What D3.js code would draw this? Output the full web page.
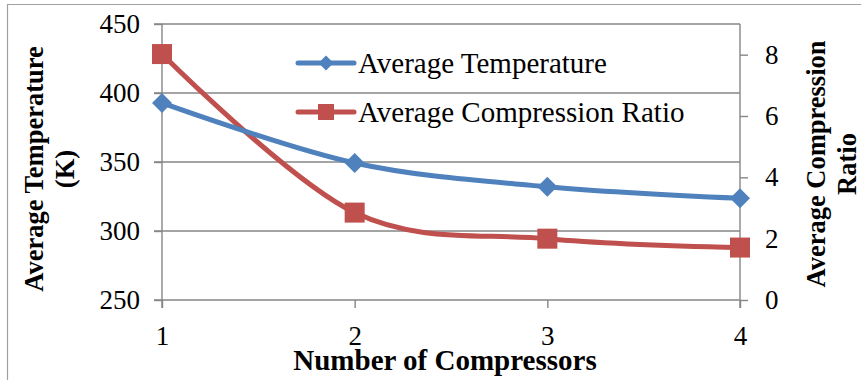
<!DOCTYPE html>
<html><head><meta charset="utf-8">
<script src="https://cdn.jsdelivr.net/npm/d3@7"></script>
<style>
html,body{margin:0;padding:0;background:#fff;}
</style></head>
<body><svg id="c" width="861" height="380"></svg>
<script>
const categories = [1, 2, 3, 4];
const avgTemperature = [392.8, 349.3, 332.1, 323.7];
const avgCompressionRatio = [8.02, 2.85, 2.0, 1.71];
const leftTicks = [250, 300, 350, 400, 450];
const rightTicks = [0, 2, 4, 6, 8];
const seriesNames = ["Average Temperature", "Average Compression Ratio"];

const svg = d3.select("#c");
const L = 162, R = 740, T = 24, B = 300;
const x = d3.scalePoint().domain(categories).range([L, R]);
const yL = d3.scaleLinear().domain([250, 450]).range([B, T]);
const yR = d3.scaleLinear().domain([0, 9]).range([B, T]);
const axisColor = "#868686";
const FONT = "Liberation Serif";

// outer frame (top and left visible)
svg.append("path").attr("d", "M7.5,380 L7.5,4.5 L861,4.5").attr("fill", "none").attr("stroke", "#a0a0a0").attr("stroke-width", 1.2);

// gridlines
svg.append("g").selectAll("line").data(leftTicks).join("line")
  .attr("x1", L - 8).attr("x2", R).attr("y1", d => yL(d)).attr("y2", d => yL(d))
  .attr("stroke", axisColor).attr("stroke-width", 1.4);

// left axis
const gl = svg.append("g").attr("transform", `translate(${L},0)`)
  .call(d3.axisLeft(yL).tickValues(leftTicks).tickSize(8).tickPadding(14));
// right axis
const gr = svg.append("g").attr("transform", `translate(${R},0)`)
  .call(d3.axisRight(yR).tickValues(rightTicks).tickSize(8).tickPadding(17));
// bottom axis
const gb = svg.append("g").attr("transform", `translate(0,${B})`)
  .call(d3.axisBottom(x).tickSize(8).tickPadding(18));
[gl, gr, gb].forEach(g => {
  g.attr("font-family", FONT).attr("font-size", 27);
  g.select(".domain").remove();
  g.selectAll("line").attr("stroke", axisColor).attr("stroke-width", 1.4);
  g.selectAll("text").attr("fill", "#000");
});
// axis vertical lines
svg.append("line").attr("x1", L).attr("x2", L).attr("y1", T).attr("y2", B + 8).attr("stroke", axisColor).attr("stroke-width", 1.4);
svg.append("line").attr("x1", R).attr("x2", R).attr("y1", T).attr("y2", B + 8).attr("stroke", axisColor).attr("stroke-width", 1.4);

const curve = d3.curveCardinal.tension(0);
const blue = "#4F81BD", red = "#C0504D";
const tData = categories.map((c, i) => [x(c), yL(avgTemperature[i])]);
const rData = categories.map((c, i) => [x(c), yR(avgCompressionRatio[i])]);

svg.append("path").attr("d", d3.line().curve(curve)(rData)).attr("fill", "none").attr("stroke", red).attr("stroke-width", 5);
svg.append("path").attr("d", d3.line().curve(curve)(tData)).attr("fill", "none").attr("stroke", blue).attr("stroke-width", 5);

const diamond = s => `M0,${-s}L${s},0L0,${s}L${-s},0Z`;
svg.append("g").selectAll("rect").data(rData).join("rect")
  .attr("x", d => d[0] - 10).attr("y", d => d[1] - 10).attr("width", 20).attr("height", 20).attr("fill", red);
svg.append("g").selectAll("path").data(tData).join("path")
  .attr("transform", d => `translate(${d[0]},${d[1]})`).attr("d", diamond(10)).attr("fill", blue);

// legend
const leg = [{name: seriesNames[0], color: blue, y: 63, m: "d"}, {name: seriesNames[1], color: red, y: 112, m: "s"}];
leg.forEach(l => {
  svg.append("line").attr("x1", 298).attr("x2", 354).attr("y1", l.y).attr("y2", l.y).attr("stroke", l.color).attr("stroke-width", 5).attr("stroke-linecap", "round");
  if (l.m === "d") svg.append("path").attr("transform", `translate(326,${l.y})`).attr("d", diamond(7.5)).attr("fill", l.color);
  else svg.append("rect").attr("x", 318).attr("y", l.y - 8).attr("width", 16).attr("height", 16).attr("fill", l.color);
  svg.append("text").attr("x", 358).attr("y", l.y + 10).attr("font-family", FONT).attr("font-size", 29).attr("fill", "#000").text(l.name);
});

// axis titles
svg.append("text").attr("x", 445).attr("y", 370).attr("text-anchor", "middle").attr("font-family", FONT).attr("font-weight", "bold").attr("font-size", 29).text("Number of Compressors");
const lt = svg.append("text").attr("transform", "translate(43,169) rotate(-90)").attr("text-anchor", "middle").attr("font-family", FONT).attr("font-weight", "bold").attr("font-size", 26.5);
lt.append("tspan").attr("x", 0).attr("y", 0).text("Average Temperature");
lt.append("tspan").attr("x", 0).attr("y", 31).text("(K)");
const rt = svg.append("text").attr("transform", "translate(825,164) rotate(-90)").attr("text-anchor", "middle").attr("font-family", FONT).attr("font-weight", "bold").attr("font-size", 26.5);
rt.append("tspan").attr("x", 0).attr("y", 0).text("Average Compression");
rt.append("tspan").attr("x", 0).attr("y", 31).text("Ratio");
</script></body></html>
